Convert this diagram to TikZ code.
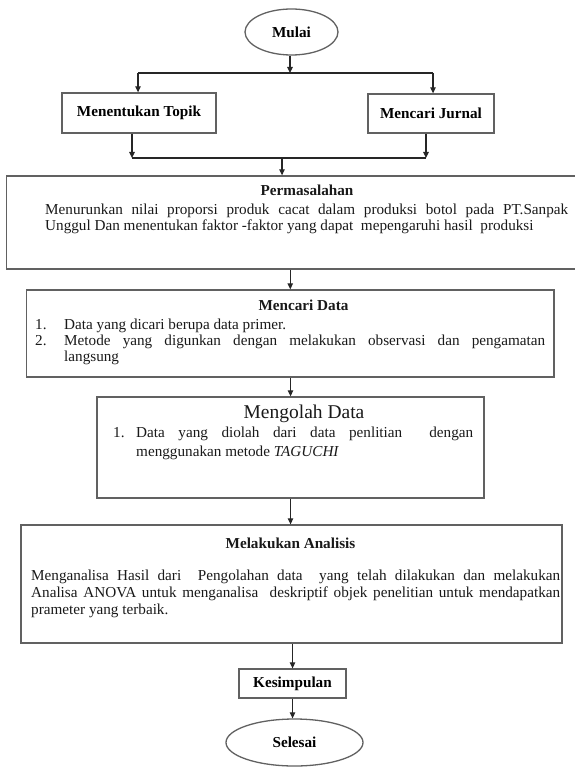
\documentclass[tikz,border=0pt]{standalone}
\usepackage{fontspec}
\setmainfont{Liberation Serif}
\usetikzlibrary{shapes.geometric,arrows.meta}
\newcommand\bodyfs{\fontsize{15.2}{17.5}\selectfont}
\newcommand\bigfs{\fontsize{19.5}{22}\selectfont}
\begin{document}
\begin{tikzpicture}[x=1pt,y=-1pt,font=\bodyfs,
  frame/.style={draw=black!62,line width=1.3pt,rectangle,inner sep=0pt},
  oval/.style={draw=black!62,line width=1.3pt,ellipse,inner sep=0pt},
  arr/.style={draw=black!85,line width=1.2pt,-{Triangle[length=6pt,width=5.5pt]}},
  link/.style={draw=black!85,line width=1.2pt},
  txt/.style={inner sep=0pt,anchor=west,text=black!90},
  ttl/.style={inner sep=0pt,font=\bodyfs\bfseries,text=black!90}]
\useasboundingbox (0,0) rectangle (574,767);

% --- start and first fork
\node[oval,minimum width=93pt,minimum height=46pt,font=\bodyfs\bfseries] (mulai) at (291.5,32) {Mulai};
\node[frame,minimum width=154pt,minimum height=40pt,font=\bodyfs\bfseries] (topik) at (139,113) {Menentukan Topik};
\node[frame,minimum width=126pt,minimum height=39pt,font=\bodyfs\bfseries] (jurnal) at (431,113.5) {Mencari Jurnal};

\coordinate (jC) at (290,73);
\coordinate (jL) at (138,73);
\coordinate (jR) at (433,73);
\draw[arr] (jC |- mulai.south) -- (jC);
\draw[link] (jL) -- (jR);
\draw[arr] (jL) -- (jL |- topik.north);
\draw[arr] (jR) -- (jR |- jurnal.north);

% --- Permasalahan
\node[frame,minimum width=570.5pt,minimum height=93pt] (masalah) at (291.75,222.5) {};
\coordinate (kC) at (282,158);
\coordinate (kL) at (132,158);
\coordinate (kR) at (426,158);
\draw[arr] (kL |- topik.south) -- (kL);
\draw[arr] (kR |- jurnal.south) -- (kR);
\draw[link] (kL) -- (kR);
\draw[arr] (kC) -- (kC |- masalah.north);

\node[ttl] (masalahT) at (307,190) {Permasalahan};
\node[txt] (masalahA) at (45,211) {\makebox[523pt][s]{\strut Menurunkan nilai proporsi produk cacat dalam produksi botol pada PT.Sanpak}};
\node[txt] (masalahB) at (45,227) {\strut Unggul Dan menentukan faktor -faktor yang dapat\ \ mepengaruhi hasil\ \ produksi};

% --- Mencari Data
\node[frame,minimum width=527.5pt,minimum height=87pt] (data) at (290.25,333.5) {};
\draw[arr] (masalah.south -| data.north) -- (data.north);
\node[ttl] (dataT) at (303.5,305) {Mencari Data};
\node[txt] (dataN1) at (35,326) {\strut 1.};
\node[txt] (dataA) at (64,326) {\strut Data yang dicari berupa data primer.};
\node[txt] (dataN2) at (35,342) {\strut 2.};
\node[txt] (dataB) at (64,342) {\makebox[481pt][s]{\strut Metode yang digunkan dengan melakukan observasi dan pengamatan}};
\node[txt] (dataC) at (64,358) {\strut langsung};

% --- Mengolah Data
\node[frame,minimum width=387pt,minimum height=101pt] (olah) at (290.5,447.5) {};
\draw[arr] (data.south -| olah.north) -- (olah.north);
\node[inner sep=0pt,font=\bigfs,text=black!90] (olahT) at (304,414) {Mengolah Data};
\node[txt] (olahN1) at (113,434) {\strut 1.};
\node[txt] (olahA) at (136,434) {\makebox[337pt][s]{\strut Data yang diolah dari data penlitian\ \ dengan}};
\node[txt] (olahB) at (136,453) {\strut menggunakan metode \textit{TAGUCHI}};

% --- Melakukan Analisis
\node[frame,minimum width=541pt,minimum height=118pt] (analisis) at (291.5,584) {};
\draw[arr] (olah.south) -- (olah.south |- analisis.north);
\node[ttl] (analisisT) at (290.5,543) {Melakukan Analisis};
\node[txt] (analisisA) at (31,577) {\makebox[529pt][s]{\strut Menganalisa Hasil dari\ \ Pengolahan data\ \ yang telah dilakukan dan melakukan}};
\node[txt] (analisisB) at (31,594) {\makebox[529pt][s]{\strut Analisa ANOVA untuk menganalisa\ \ deskriptif objek penelitian untuk mendapatkan}};
\node[txt] (analisisC) at (31,611) {\strut prameter yang terbaik.};

% --- end
\node[frame,minimum width=107pt,minimum height=29pt,font=\bodyfs\bfseries] (simpul) at (292.5,683.5) {Kesimpulan};
\draw[arr] (analisis.south -| simpul.north) -- (simpul.north);
\node[oval,minimum width=137pt,minimum height=47pt,font=\bodyfs\bfseries] (selesai) at (294.5,742.5) {Selesai};
\draw[arr] (simpul.south) -- (simpul.south |- selesai.north);
\end{tikzpicture}
\end{document}
